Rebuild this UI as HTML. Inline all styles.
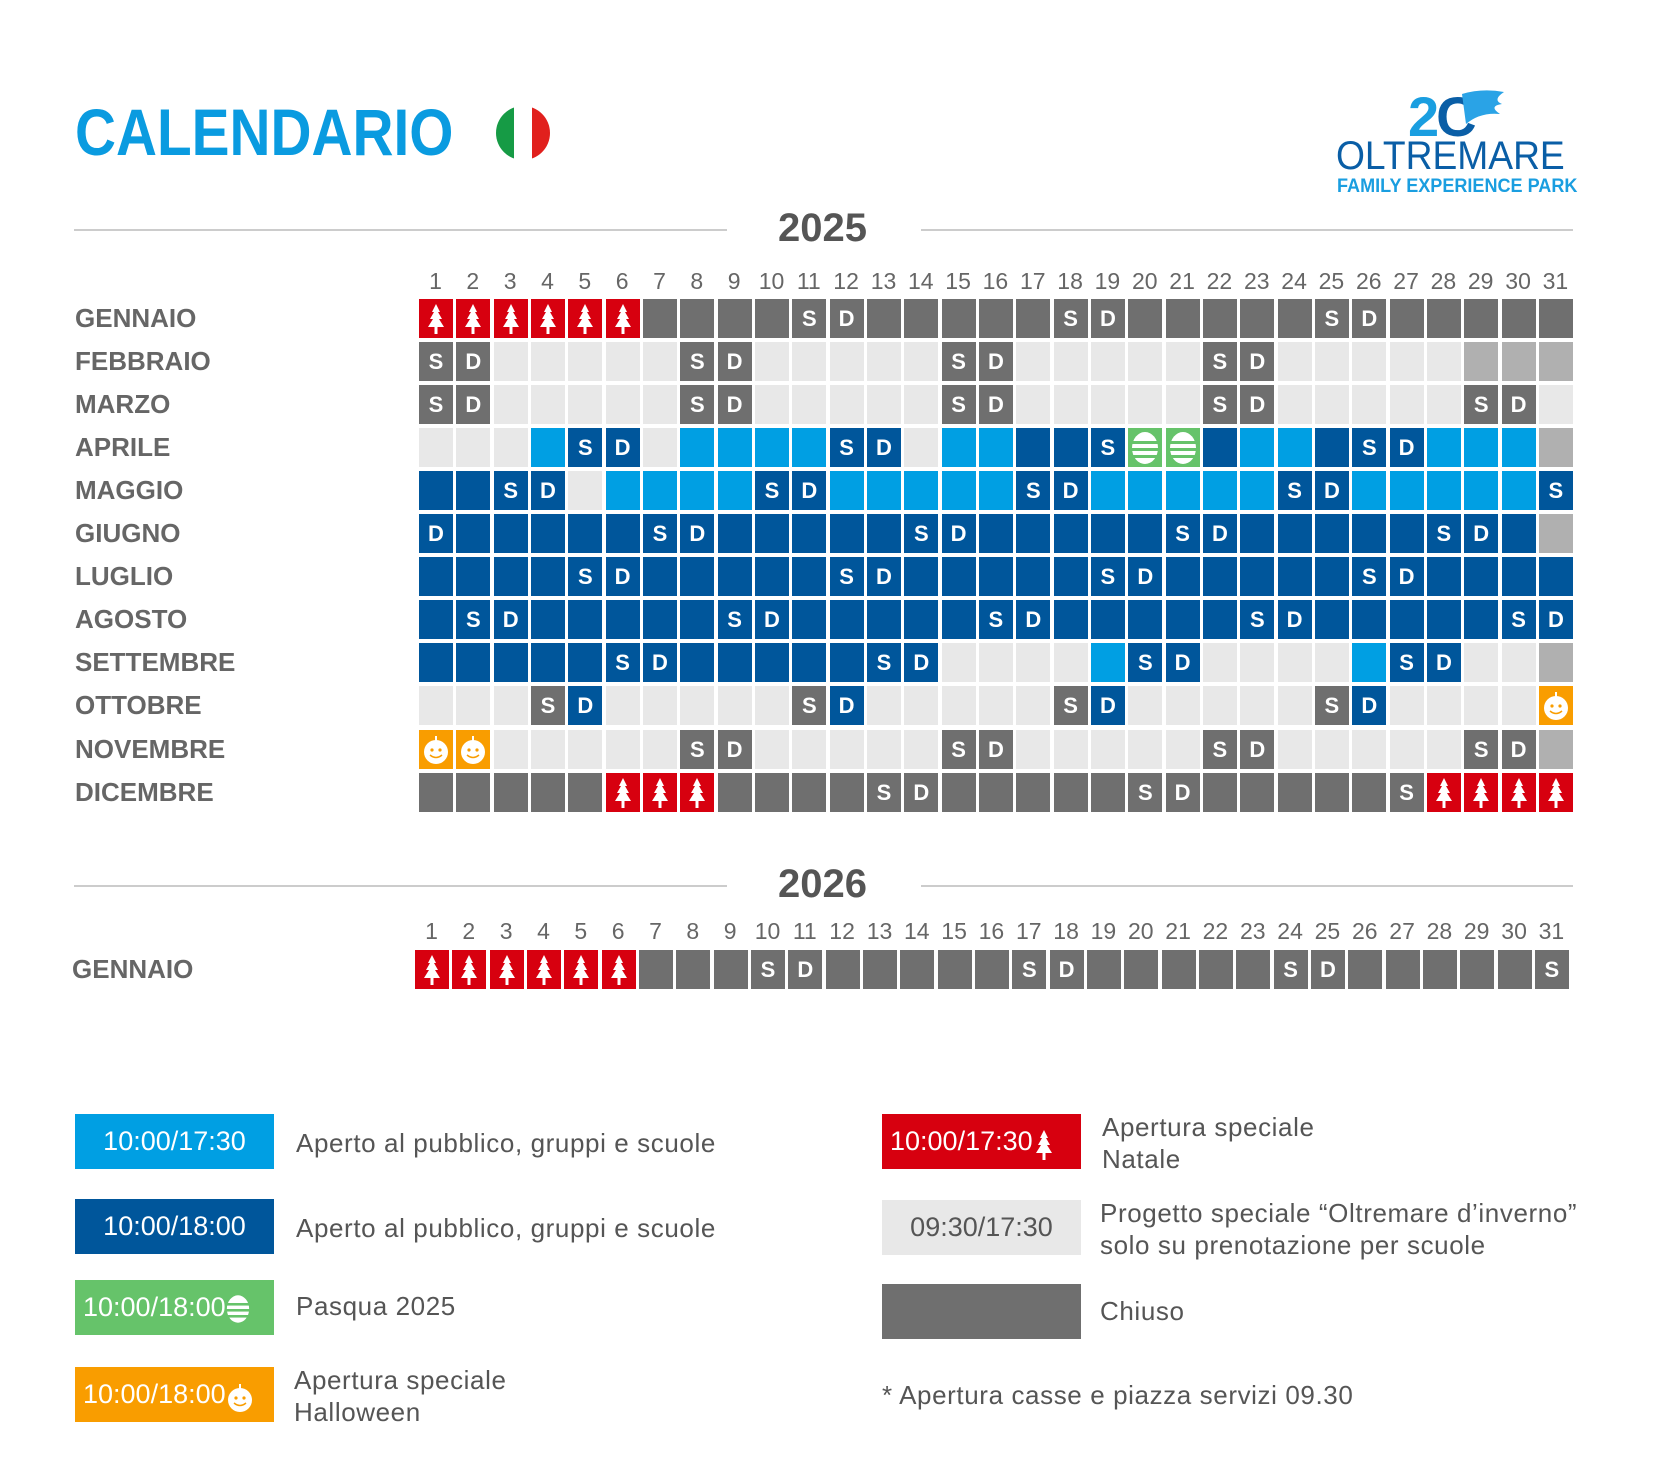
<!DOCTYPE html>
<html><head><meta charset="utf-8">
<style>
body{margin:0;background:#fff;}
#c{position:relative;width:1667px;height:1458px;overflow:hidden;font-family:"Liberation Sans",sans-serif;}
.a{position:absolute;}
.cell{position:absolute;width:34px;height:39px;color:#fff;font-size:22px;font-weight:bold;text-align:center;line-height:39px;}
.mon{position:absolute;left:75px;color:#666;font-size:26px;font-weight:bold;line-height:30px;}
.num{position:absolute;width:37px;text-align:center;color:#666;font-size:23px;}
.line{position:absolute;height:2px;background:#ccc;}
.yr{position:absolute;color:#555;font-size:40px;font-weight:bold;}
.lb{position:absolute;width:199px;height:55px;color:#fff;font-size:27px;line-height:55px;text-align:center;}
.lt{position:absolute;color:#555;font-size:26px;line-height:32px;letter-spacing:0.6px;}
</style></head><body><div id="c">
<div class="a" style="left:75px;top:94px;color:#0a9be0;font-size:66px;font-weight:bold;transform:scaleX(0.86);transform-origin:left;">CALENDARIO</div>
<svg class="a" style="left:496px;top:106px" width="54" height="54"><defs><clipPath id="cp"><circle cx="27" cy="27" r="27"/></clipPath></defs><g clip-path="url(#cp)"><rect width="18" height="54" fill="#169b45"/><rect x="18" width="18" height="54" fill="#fff"/><rect x="36" width="18" height="54" fill="#e1201d"/></g></svg>
<div class="a" style="left:1408px;top:84px;color:#1a9ee0;font-size:56px;font-weight:bold;letter-spacing:-3px;">2<span style="color:#0a5ea6">C</span></div>
<svg class="a" style="left:1458px;top:88px" width="48" height="40"><path d="M4 6 Q24 0 46 4 Q34 12 44 16 Q30 18 42 26 Q22 24 8 36 Z" fill="#2aa3e6"/></svg>
<div class="a" style="left:1336px;top:134px;color:#0a5ea6;font-size:40px;transform:scaleX(0.93);transform-origin:left;">OLTREMARE</div>
<div class="a" style="left:1337px;top:176px;color:#1a9ee0;font-size:19px;font-weight:bold;transform:scaleX(0.95);transform-origin:left;">FAMILY EXPERIENCE PARK</div>

<div class="line" style="left:74px;width:653px;top:229px"></div>
<div class="line" style="left:921px;width:652px;top:229px"></div>
<div class="yr" style="left:778px;top:206px">2025</div>
<div class="line" style="left:74px;width:653px;top:885px"></div>
<div class="line" style="left:921px;width:652px;top:885px"></div>
<div class="yr" style="left:778px;top:862px">2026</div>

<div class="lb" style="left:75px;top:1114px;background:#009fe3">10:00/17:30</div>
<div class="lt" style="left:296px;top:1127px">Aperto al pubblico, gruppi e scuole</div>
<div class="lb" style="left:75px;top:1199px;background:#00569b">10:00/18:00</div>
<div class="lt" style="left:296px;top:1212px">Aperto al pubblico, gruppi e scuole</div>
<div class="lb" style="left:75px;top:1280px;background:#66c36a;text-align:left;padding-left:8px;width:191px">10:00/18:00<span id="le"></span></div>
<div class="lt" style="left:296px;top:1290px">Pasqua 2025</div>
<div class="lb" style="left:75px;top:1367px;background:#f99d00;text-align:left;padding-left:8px;width:191px">10:00/18:00<span id="lh"></span></div>
<div class="lt" style="left:294px;top:1364px">Apertura speciale<br>Halloween</div>
<div class="lb" style="left:882px;top:1114px;background:#d7000f;text-align:left;padding-left:8px;width:191px">10:00/17:30<span id="lr"></span></div>
<div class="lt" style="left:1102px;top:1111px">Apertura speciale<br>Natale</div>
<div class="lb" style="left:882px;top:1200px;background:#e8e8e8;color:#555">09:30/17:30</div>
<div class="lt" style="left:1100px;top:1197px">Progetto speciale “Oltremare d’inverno”<br>solo su prenotazione per scuole</div>
<div class="lb" style="left:882px;top:1284px;background:#6f6f6f"></div>
<div class="lt" style="left:1100px;top:1295px">Chiuso</div>
<div class="lt" style="left:882px;top:1379px">* Apertura casse e piazza servizi 09.30</div>
</div>
<script>
var C={R:'#d7000f',G:'#6f6f6f',L:'#e8e8e8',M:'#b0b0b0',B:'#009fe3',N:'#00569b',E:'#66c36a',H:'#f99d00'};
var tree='<svg width="22" height="32" viewBox="0 0 22 32" style="margin-top:4px"><path d="M11 1 L15 9 L13 9 L17 16 L14 16 L19 24 L12.5 24 L12.5 31 L9.5 31 L9.5 24 L3 24 L8 16 L5 16 L9 9 L7 9 Z" fill="#fff"/></svg>';
var egg='<svg width="28" height="34" viewBox="0 0 28 34" style="margin-top:3px"><ellipse cx="14" cy="17" rx="13" ry="16" fill="#fff"/><rect x="0" y="10" width="28" height="3" fill="#66c36a"/><rect x="0" y="17" width="28" height="3" fill="#66c36a"/><rect x="0" y="24" width="28" height="3" fill="#66c36a"/></svg>';
var pump='<svg width="28" height="30" viewBox="0 0 28 30" style="margin-top:5px"><circle cx="14" cy="17" r="12" fill="#fff"/><rect x="13" y="1" width="2" height="5" fill="#fff"/><circle cx="10" cy="15" r="1.6" fill="#f99d00"/><circle cx="18" cy="15" r="1.6" fill="#f99d00"/><path d="M8 20 Q14 25 20 20" stroke="#f99d00" stroke-width="1.5" fill="none"/></svg>';
function mk(spec){var a=[];for(var i=0;i<31;i++)a.push('L');
 spec.forEach(function(s){for(var d=s[0];d<=s[1];d++)a[d-1]=s[2];});return a;}
function base(c){var a=[];for(var i=0;i<31;i++)a.push(c);return a;}
function setd(a,list,c){list.forEach(function(x){a[x-1]=c;});return a;}
var m=[];
var g=base('G');for(var i=0;i<6;i++)g[i]='R';setd(g,[11,18,25],'GS');setd(g,[12,19,26],'GD');m.push(['GENNAIO',g]);
var f=base('L');setd(f,[1,8,15,22],'GS');setd(f,[2,9,16,23],'GD');setd(f,[29,30,31],'M');m.push(['FEBBRAIO',f]);
var mr=base('L');setd(mr,[1,8,15,22,29],'GS');setd(mr,[2,9,16,23,30],'GD');m.push(['MARZO',mr]);
var ap=mk([[4,4,'B'],[5,5,'NS'],[6,6,'ND'],[8,11,'B'],[12,12,'NS'],[13,13,'ND'],[15,16,'B'],[17,18,'N'],[19,19,'NS'],[20,21,'E'],[22,22,'N'],[23,24,'B'],[25,25,'N'],[26,26,'NS'],[27,27,'ND'],[28,30,'B'],[31,31,'M']]);m.push(['APRILE',ap]);
var mg=mk([[1,2,'N'],[3,3,'NS'],[4,4,'ND'],[6,9,'B'],[10,10,'NS'],[11,11,'ND'],[12,16,'B'],[17,17,'NS'],[18,18,'ND'],[19,23,'B'],[24,24,'NS'],[25,25,'ND'],[26,30,'B'],[31,31,'NS']]);m.push(['MAGGIO',mg]);
var gi=base('N');setd(gi,[7,14,21,28],'NS');setd(gi,[1,8,15,22,29],'ND');gi[30]='M';m.push(['GIUGNO',gi]);
var lu=base('N');setd(lu,[5,12,19,26],'NS');setd(lu,[6,13,20,27],'ND');m.push(['LUGLIO',lu]);
var ag=base('N');setd(ag,[2,9,16,23,30],'NS');setd(ag,[3,10,17,24,31],'ND');m.push(['AGOSTO',ag]);
var se=mk([[1,5,'N'],[6,6,'NS'],[7,7,'ND'],[8,12,'N'],[13,13,'NS'],[14,14,'ND'],[19,19,'B'],[20,20,'NS'],[21,21,'ND'],[26,26,'B'],[27,27,'NS'],[28,28,'ND'],[31,31,'M']]);m.push(['SETTEMBRE',se]);
var ot=base('L');setd(ot,[4,11,18,25],'GS');setd(ot,[5,12,19,26],'ND');ot[30]='H';m.push(['OTTOBRE',ot]);
var no=base('L');setd(no,[1,2],'H');setd(no,[8,15,22,29],'GS');setd(no,[9,16,23,30],'GD');no[30]='M';m.push(['NOVEMBRE',no]);
var di=base('G');setd(di,[6,7,8,28,29,30,31],'R');setd(di,[13,20,27],'GS');setd(di,[14,21],'GD');m.push(['DICEMBRE',di]);
var j6=base('G');for(var i=0;i<6;i++)j6[i]='R';setd(j6,[10,17,24,31],'GS');setd(j6,[11,18,25],'GD');
var h='',P=37.33;
function cell(x,y,code){var c=code[0],t=code[1]||'';var inner=t;
 if(c=='R')inner=tree;else if(c=='E')inner=egg;else if(c=='H')inner=pump;
 return '<div class="cell" style="left:'+x.toFixed(1)+'px;top:'+y+'px;background:'+C[c]+';'+(c=='L'?'color:#555':'')+'">'+inner+'</div>';}
for(var d=0;d<31;d++){h+='<div class="num" style="left:'+(417+d*P).toFixed(1)+'px;top:268px">'+(d+1)+'</div>';
 h+='<div class="num" style="left:'+(413+d*P).toFixed(1)+'px;top:918px">'+(d+1)+'</div>';}
m.forEach(function(r,i){var y=Math.round(299+i*43.05);h+='<div class="mon" style="top:'+(y+4)+'px">'+r[0]+'</div>';
 r[1].forEach(function(code,d){h+=cell(419+d*P,y,code);});});
h+='<div class="mon" style="left:72px;top:954px">GENNAIO</div>';
j6.forEach(function(code,d){h+=cell(415+d*P,950,code);});
var c=document.getElementById('c');c.insertAdjacentHTML('beforeend',h);
document.getElementById('le').innerHTML='<svg width="24" height="30" viewBox="0 0 28 34" style="vertical-align:middle"><ellipse cx="14" cy="17" rx="13" ry="16" fill="#fff"/><rect x="0" y="10" width="28" height="3" fill="#66c36a"/><rect x="0" y="17" width="28" height="3" fill="#66c36a"/><rect x="0" y="24" width="28" height="3" fill="#66c36a"/></svg>';
document.getElementById('lh').innerHTML='<span style="display:inline-block;vertical-align:middle;line-height:0">'+pump+'</span>';
document.getElementById('lr').innerHTML='<span style="display:inline-block;vertical-align:middle;line-height:0">'+tree+'</span>';
</script>
</body></html>
